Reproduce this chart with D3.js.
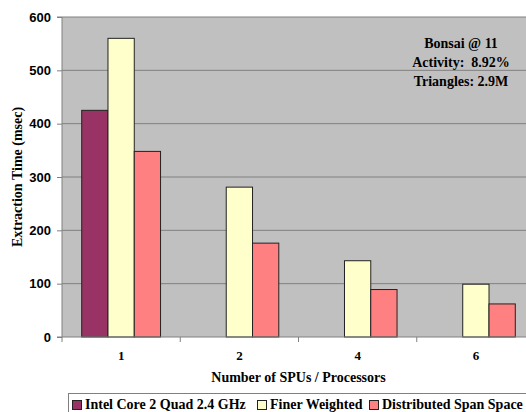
<!DOCTYPE html>
<html>
<head>
<meta charset="utf-8">
<script src="https://cdn.jsdelivr.net/npm/d3@7"></script>
<style>
  body { margin: 0; background: #fff; }
  svg { display: block; font-family: "Liberation Serif", "Times New Roman", serif; font-weight: bold; }
  .axis text { font-size: 13px; font-weight: bold; fill: #000; }
  .axis path, .axis line { stroke: #808080; }
</style>
</head>
<body>
<svg id="chart"></svg>
<script>
// data
const categories = ['1', '2', '4', '6']
const series = ['Intel Core 2 Quad 2.4 GHz', 'Finer Weighted', 'Distributed Span Space']
const intelValues = [425, null, null, null]
const finerValues = [560, 281, 143, 99]
const spanValues = [348, 176, 89, 62]
const yTicks = [0, 100, 200, 300, 400, 500, 600]
const notes = ['Bonsai @ 11', 'Activity:  8.92%', 'Triangles: 2.9M']

const colors = ['#993366', '#FFFFCC', '#FF8080']

const width = 526, height = 412
const margin = {top: 17, left: 62, bottom: 75}
const plotW = 473
const plotH = height - margin.top - margin.bottom

const svg = d3.select('#chart')
    .attr('width', width)
    .attr('height', height)

const chart = svg.append('g')
    .attr('transform', `translate(${margin.left},${margin.top})`)

const x0 = d3.scaleBand()
    .domain(categories)
    .range([0, plotW])
    .padding(0)

const x1 = d3.scaleBand()
    .domain(series)
    .range([0, x0.bandwidth()])
    .paddingInner(0)
    .paddingOuter(0.75)

const y = d3.scaleLinear()
    .domain([0, 600])
    .range([plotH, 0])

// plot background
chart.append('rect')
    .attr('width', plotW)
    .attr('height', plotH)
    .attr('fill', '#C0C0C0')

// gridlines
chart.selectAll('.grid')
    .data(yTicks.filter(d => d > 0))
    .join('line')
    .attr('class', 'grid')
    .attr('x1', 0)
    .attr('x2', plotW)
    .attr('y1', d => y(d))
    .attr('y2', d => y(d))
    .attr('stroke', '#808080')
    .attr('stroke-width', 1)

// bars
const rows = categories.map((c, i) => ({
    cat: c,
    vals: [intelValues[i], finerValues[i], spanValues[i]]
}))

const groups = chart.selectAll('.group')
    .data(rows)
    .join('g')
    .attr('class', 'group')
    .attr('transform', d => `translate(${x0(d.cat)},0)`)

groups.selectAll('rect')
    .data(d => d.vals.map((v, j) => ({s: series[j], v: v, j: j})).filter(d => d.v != null))
    .join('rect')
    .attr('x', d => x1(d.s))
    .attr('y', d => y(d.v))
    .attr('width', x1.bandwidth())
    .attr('height', d => plotH - y(d.v))
    .attr('fill', d => colors[d.j])
    .attr('stroke', '#222')
    .attr('stroke-width', 1)

// axes
const yAxis = d3.axisLeft(y).tickValues(yTicks).tickSize(5).tickPadding(6)
chart.append('g')
    .attr('class', 'axis')
    .call(yAxis)
    .call(g => g.select('.domain').attr('d', `M-5,${plotH}H0V0H-5`))

const xAxisG = chart.append('g')
    .attr('class', 'axis')
    .attr('transform', `translate(0,${plotH})`)
xAxisG.append('line')
    .attr('x1', 0).attr('x2', plotW)
    .attr('stroke', '#808080')
xAxisG.selectAll('.tick-mark')
    .data(categories.concat(['end']))
    .join('line')
    .attr('x1', (d, i) => i * x0.step())
    .attr('x2', (d, i) => i * x0.step())
    .attr('y1', 0)
    .attr('y2', 5)
    .attr('stroke', '#808080')
xAxisG.selectAll('.tick-label')
    .data(categories)
    .join('text')
    .attr('x', d => x0(d) + x0.bandwidth() / 2)
    .attr('y', 23)
    .attr('text-anchor', 'middle')
    .text(d => d)

// axis titles
svg.append('text')
    .attr('transform', `translate(22,${margin.top + plotH / 2}) rotate(-90)`)
    .attr('text-anchor', 'middle')
    .style('font-size', '14px')
    .text('Extraction Time (msec)')

svg.append('text')
    .attr('x', margin.left + plotW / 2)
    .attr('y', 382)
    .attr('text-anchor', 'middle')
    .style('font-size', '14px')
    .text('Number of SPUs / Processors')

// annotation
svg.selectAll('.note')
    .data(notes)
    .join('text')
    .attr('class', 'note')
    .attr('x', 461)
    .attr('y', (d, i) => 48 + i * 19)
    .attr('text-anchor', 'middle')
    .style('font-size', '14px')
    .style('white-space', 'pre')
    .text(d => d)

// legend
svg.append('rect')
    .attr('x', 68.5).attr('y', 393.5)
    .attr('width', 480).attr('height', 40)
    .attr('fill', '#fff')
    .attr('stroke', '#808080')
const legendX = [72, 257, 369]
const li = svg.selectAll('.legend-item')
    .data(series)
    .join('g')
    .attr('class', 'legend-item')
    .attr('transform', (d, i) => `translate(${legendX[i]},0)`)
li.append('rect')
    .attr('x', 0.5).attr('y', 400.5)
    .attr('width', 9).attr('height', 9)
    .attr('fill', (d, i) => colors[i])
    .attr('stroke', '#222')
li.append('text')
    .attr('x', 13)
    .attr('y', 408.5)
    .style('font-size', '14px')
    .text(d => d)
</script>
</body>
</html>
